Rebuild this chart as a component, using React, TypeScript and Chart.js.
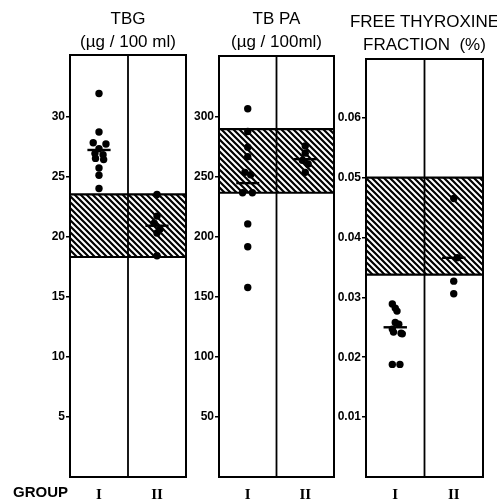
import React, { useEffect, useRef } from "react";
import { Chart, registerables } from "chart.js";

Chart.register(...registerables);

// ---------- data ----------
const GROUP_LABELS = ["I", "II"];
const GROUP_POS = [1, 2];

// TBG (µg/100 ml)
const TBG_TITLE = ["TBG", "(\u00b5g / 100 ml)"];
const TBG_TICKS = [5, 10, 15, 20, 25, 30];
const TBG_I = [31.9, 28.7, 27.8, 27.7, 27.3, 26.9, 26.8, 26.5, 26.4, 25.7, 25.1, 24.0];
const TBG_I_JITTER = [0, 0, -0.1, 0.12, 0, -0.07, 0.07, -0.06, 0.08, 0, 0, 0];
const TBG_II = [23.5, 21.7, 21.1, 20.6, 20.3, 18.4];
const TBG_II_JITTER = [0, 0, -0.05, 0.05, 0, 0];
const TBG_MEANS = [27.2, 20.9];
const TBG_NORMAL = [18.3, 23.5];
const TBG_MAX = 35.1;

// TBPA (µg/100 ml)
const TBPA_TITLE = ["TB PA", "(\u00b5g / 100ml)"];
const TBPA_TICKS = [50, 100, 150, 200, 250, 300];
const TBPA_I = [307, 288, 275, 267, 254, 252, 237, 237, 211, 192, 158];
const TBPA_I_JITTER = [0, 0, 0, 0, -0.05, 0.05, -0.09, 0.08, 0, 0, 0];
const TBPA_II = [276, 270, 264, 261, 254];
const TBPA_II_JITTER = [0, 0, -0.05, 0.05, 0];
const TBPA_MEANS = [245, 265];
const TBPA_NORMAL = [237, 290];
const TBPA_MAX = 351;

// Free thyroxine fraction (%)
const FT_TITLE = ["FREE THYROXINE", "FRACTION  (%)"];
const FT_TICKS = [0.01, 0.02, 0.03, 0.04, 0.05, 0.06];
const FT_I = [0.0289, 0.0282, 0.0277, 0.0258, 0.0255, 0.0247, 0.0242, 0.024, 0.0239, 0.0188, 0.0188];
const FT_I_JITTER = [-0.05, 0, 0.03, 0, 0.06, -0.05, -0.03, 0.1, 0.12, -0.05, 0.08];
const FT_II = [0.0465, 0.0366, 0.0327, 0.0306];
const FT_II_JITTER = [0, 0.06, 0, 0];
const FT_MEANS = [0.025, 0.0366];
const FT_NORMAL = [0.0338, 0.05];
const FT_MAX = 0.0698;

// ---------- helpers ----------
const SANS = "'Liberation Sans', Arial, sans-serif";

function makeHatch(): CanvasPattern | string {
  const s = 6;
  const c = document.createElement("canvas");
  c.width = s;
  c.height = s;
  const g = c.getContext("2d");
  if (!g) return "#888";
  g.fillStyle = "#fff";
  g.fillRect(0, 0, s, s);
  g.strokeStyle = "#000";
  g.lineWidth = 2.2;
  g.beginPath();
  g.moveTo(-1, -1);
  g.lineTo(s + 1, s + 1);
  g.moveTo(-1, s - 1);
  g.lineTo(1, s + 1);
  g.moveTo(s - 1, -1);
  g.lineTo(s + 1, 1);
  g.stroke();
  const p = g.createPattern(c, "repeat");
  return p || "#888";
}

const bandPlugin = {
  id: "normalBand",
  beforeDatasetsDraw(chart: any, _a: any, opts: any) {
    const { ctx, chartArea } = chart;
    const y = chart.scales.y;
    const yTop = y.getPixelForValue(opts.to);
    const yBot = y.getPixelForValue(opts.from);
    ctx.save();
    ctx.fillStyle = opts.pattern;
    ctx.fillRect(chartArea.left, yTop, chartArea.right - chartArea.left, yBot - yTop);
    ctx.strokeStyle = "#000";
    ctx.lineWidth = 2.2;
    ctx.beginPath();
    ctx.moveTo(chartArea.left, yTop);
    ctx.lineTo(chartArea.right, yTop);
    ctx.moveTo(chartArea.left, yBot);
    ctx.lineTo(chartArea.right, yBot);
    ctx.stroke();
    ctx.restore();
  },
};

const framePlugin = {
  id: "panelFrame",
  afterDatasetsDraw(chart: any) {
    const { ctx, chartArea } = chart;
    const x = chart.scales.x;
    const xm = x.getPixelForValue((GROUP_POS[0] + GROUP_POS[1]) / 2);
    ctx.save();
    ctx.strokeStyle = "#000";
    ctx.lineWidth = 2;
    ctx.strokeRect(chartArea.left, chartArea.top, chartArea.right - chartArea.left, chartArea.bottom - chartArea.top);
    ctx.lineWidth = 1.8;
    ctx.beginPath();
    ctx.moveTo(xm, chartArea.top);
    ctx.lineTo(xm, chartArea.bottom);
    ctx.stroke();
    ctx.restore();
  },
};

// Two-line panel heading, centred over the plot area (not squeezed to its width)
const headingPlugin = {
  id: "panelHeading",
  afterDraw(chart: any, _a: any, opts: any) {
    const { ctx, chartArea } = chart;
    const cx = (chartArea.left + chartArea.right) / 2;
    ctx.save();
    ctx.fillStyle = "#000";
    ctx.textAlign = "center";
    ctx.textBaseline = "middle";
    ctx.font = `${opts.size}px ${SANS}`;
    (opts.lines as string[]).forEach((t, i) => {
      ctx.fillText(t, cx, opts.firstY + i * opts.lineGap);
    });
    ctx.restore();
  },
};

type PanelProps = {
  title: string[];
  ticks: number[];
  decimals: number;
  max: number;
  groups: { values: number[]; jitter: number[] }[];
  means: number[];
  normal: number[];
  left: number;
  width: number;
  axisWidth: number;
  padRight: number;
  plotTop: number;
  titleY: number;
};

function Panel(p: PanelProps) {
  const ref = useRef<HTMLCanvasElement | null>(null);
  useEffect(() => {
    if (!ref.current) return;
    const pattern = makeHatch();
    const datasets: any[] = [];
    p.groups.forEach((g, gi) => {
      datasets.push({
        type: "scatter",
        data: g.values.map((v, i) => ({ x: GROUP_POS[gi] + g.jitter[i], y: v })),
        backgroundColor: "#000",
        borderWidth: 0,
        pointRadius: 3.7,
      });
    });
    p.means.forEach((m, gi) => {
      datasets.push({
        type: "scatter",
        showLine: true,
        data: [
          { x: GROUP_POS[gi] - 0.2, y: m },
          { x: GROUP_POS[gi] + 0.2, y: m },
        ],
        borderColor: "#000",
        borderWidth: 2.4,
        pointRadius: 0,
      });
    });
    const chart = new Chart(ref.current, {
      type: "scatter",
      data: { datasets },
      plugins: [bandPlugin, framePlugin, headingPlugin],
      options: {
        animation: false,
        responsive: false,
        devicePixelRatio: 1,
        layout: { padding: { right: p.padRight, left: 0, top: p.plotTop, bottom: 0 } },
        plugins: {
          legend: { display: false },
          tooltip: { enabled: false },
          title: { display: false },
          panelHeading: { lines: p.title, size: 17, firstY: p.titleY, lineGap: 23 },
          normalBand: { from: p.normal[0], to: p.normal[1], pattern },
        } as any,
        scales: {
          x: {
            type: "linear",
            min: 0.5,
            max: 2.5,
            grid: { display: false, drawTicks: false },
            border: { display: false },
            afterBuildTicks: (s: any) => {
              s.ticks = GROUP_POS.map((v) => ({ value: v }));
            },
            afterFit: (s: any) => {
              s.height = 22;
            },
            ticks: {
              autoSkip: false,
              maxRotation: 0,
              padding: 9,
              color: "#000",
              font: { family: "'Liberation Serif', serif", size: 15, weight: "bold" },
              callback: (v: any) => GROUP_LABELS[GROUP_POS.indexOf(Number(v))] ?? "",
            },
          },
          y: {
            type: "linear",
            min: 0,
            max: p.max,
            border: { display: false },
            grid: { drawOnChartArea: false, drawTicks: true, tickLength: 4, color: "#000", lineWidth: 1.5 },
            afterBuildTicks: (s: any) => {
              s.ticks = p.ticks.map((v) => ({ value: v }));
            },
            afterFit: (s: any) => {
              s.width = p.axisWidth;
            },
            ticks: {
              autoSkip: false,
              padding: 1,
              color: "#000",
              font: { family: SANS, size: 12, weight: "bold" },
              callback: (v: any) => Number(v).toFixed(p.decimals),
            },
          },
        },
      },
    });
    return () => chart.destroy();
  }, []);
  return (
    <canvas
      ref={ref}
      width={p.width}
      height={499}
      style={{ position: "absolute", left: p.left, top: 0, width: p.width, height: 499 }}
    />
  );
}

export default function App() {
  return (
    <div style={{ position: "absolute", left: 0, top: 0, width: 497, height: 499, background: "#fff", overflow: "hidden" }}>
      <Panel
        title={TBG_TITLE}
        ticks={TBG_TICKS}
        decimals={0}
        max={TBG_MAX}
        groups={[
          { values: TBG_I, jitter: TBG_I_JITTER },
          { values: TBG_II, jitter: TBG_II_JITTER },
        ]}
        means={TBG_MEANS}
        normal={TBG_NORMAL}
        left={0}
        width={190}
        axisWidth={70}
        padRight={2}
        plotTop={55}
        titleY={19}
      />
      <Panel
        title={TBPA_TITLE}
        ticks={TBPA_TICKS}
        decimals={0}
        max={TBPA_MAX}
        groups={[
          { values: TBPA_I, jitter: TBPA_I_JITTER },
          { values: TBPA_II, jitter: TBPA_II_JITTER },
        ]}
        means={TBPA_MEANS}
        normal={TBPA_NORMAL}
        left={188}
        width={150}
        axisWidth={31}
        padRight={2}
        plotTop={56}
        titleY={19}
      />
      <Panel
        title={FT_TITLE}
        ticks={FT_TICKS}
        decimals={2}
        max={FT_MAX}
        groups={[
          { values: FT_I, jitter: FT_I_JITTER },
          { values: FT_II, jitter: FT_II_JITTER },
        ]}
        means={FT_MEANS}
        normal={FT_NORMAL}
        left={320}
        width={177}
        axisWidth={46}
        padRight={14}
        plotTop={59}
        titleY={22}
      />
      <div
        style={{
          position: "absolute",
          left: 13,
          top: 484,
          font: "bold 15px 'Liberation Sans', Arial, sans-serif",
          lineHeight: "15px",
          color: "#000",
        }}
      >
        GROUP
      </div>
    </div>
  );
}
